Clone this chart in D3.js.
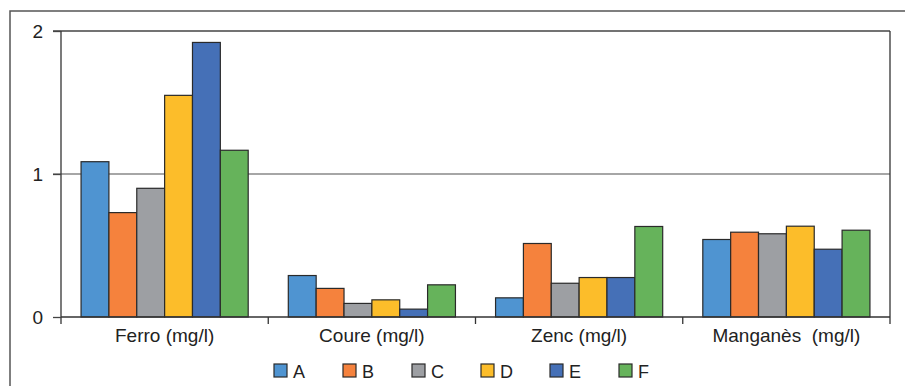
<!DOCTYPE html>
<html>
<head>
<meta charset="utf-8">
<script src="https://cdn.jsdelivr.net/npm/d3@7"></script>
<style>
  body { margin: 0; background: #fff; }
  svg { display: block; font-family: "Liberation Sans Narrow", "Liberation Sans", Arial, sans-serif; }
</style>
</head>
<body>
<svg id="chart" width="905" height="386"></svg>
<script>
var categories = ["Ferro (mg/l)", "Coure (mg/l)", "Zenc (mg/l)", "Manganès  (mg/l)"];
var series = ["A", "B", "C", "D", "E", "F"];
var colors = ["#4f94d1", "#f5823d", "#9d9fa3", "#fcbd2a", "#4570b7", "#66b35b"];
var A = [1.086, 0.29, 0.134, 0.542];
var B = [0.73, 0.20, 0.514, 0.593];
var C = [0.90, 0.095, 0.236, 0.582];
var D = [1.55, 0.12, 0.276, 0.635];
var E = [1.92, 0.055, 0.276, 0.474];
var F = [1.166, 0.225, 0.633, 0.607];
var yTicks = [0, 1, 2];

var values = [A, B, C, D, E, F];
var svg = d3.select("#chart");

var plotLeft = 61, plotRight = 890, plotTop = 31, plotBottom = 317;

// outer frame
svg.append("path")
  .attr("d", "M10,400 V11 H920")
  .attr("fill", "none").attr("stroke", "#555").attr("stroke-width", 1.5);

var x0 = d3.scaleBand().domain(categories).range([plotLeft, plotRight]);
var x1 = d3.scaleBand().domain(series).range([0, x0.bandwidth()]).paddingInner(0).paddingOuter(0.72);
var y = d3.scaleLinear().domain([0, 2]).range([plotBottom, plotTop]);

// gridlines
svg.append("g").selectAll("line").data(yTicks.filter(function(d){ return d > 0; }))
  .enter().append("line")
  .attr("x1", plotLeft - 8).attr("x2", plotRight)
  .attr("y1", function(d){ return y(d); }).attr("y2", function(d){ return y(d); })
  .attr("stroke", function(d){ return d == 2 ? "#444" : "#888"; })
  .attr("stroke-width", 1.3);

// right border of plot
svg.append("line")
  .attr("x1", plotRight).attr("x2", plotRight).attr("y1", plotTop).attr("y2", plotBottom + 7)
  .attr("stroke", "#333").attr("stroke-width", 1.3);

// bars
var groups = svg.append("g").selectAll("g").data(categories).enter().append("g")
  .attr("transform", function(d){ return "translate(" + x0(d) + ",0)"; });

groups.selectAll("rect")
  .data(function(d, ci){ return series.map(function(s, si){ return {s: s, v: values[si][ci], c: colors[si]}; }); })
  .enter().append("rect")
  .attr("x", function(d){ return x1(d.s); })
  .attr("width", x1.bandwidth())
  .attr("y", function(d){ return y(d.v); })
  .attr("height", function(d){ return y(0) - y(d.v); })
  .attr("fill", function(d){ return d.c; })
  .attr("stroke", "#2a2a2a").attr("stroke-width", 1.2);

// y axis
var yAxis = d3.axisLeft(y).tickValues(yTicks).tickSize(8).tickPadding(10).tickFormat(d3.format("d"));
var yg = svg.append("g").attr("transform", "translate(" + plotLeft + ",0)").call(yAxis);
yg.select(".domain").attr("stroke", "#333").attr("stroke-width", 1.3).attr("d", "M0," + plotTop + "V" + (plotBottom + 7));
yg.selectAll(".tick line").attr("stroke", "#444").attr("stroke-width", 1.3);
yg.selectAll("text").attr("font-size", 19).attr("fill", "#222").attr("font-family", "inherit");

// x axis
var xAxis = d3.axisBottom(x0).tickSize(0).tickPadding(10);
var xg = svg.append("g").attr("transform", "translate(0," + plotBottom + ")").call(xAxis);
xg.select(".domain").attr("stroke", "#333").attr("stroke-width", 1.3).attr("d", "M" + plotLeft + ",0H" + plotRight);
xg.selectAll("text").attr("font-size", 19).attr("fill", "#222").attr("font-family", "inherit")
  .style("white-space", "pre").attr("y", 7).attr("dy", "0.95em");
// boundary ticks between categories
xg.append("g").selectAll("line").data(categories.slice(1))
  .enter().append("line")
  .attr("x1", function(d){ return x0(d); }).attr("x2", function(d){ return x0(d); })
  .attr("y1", 0).attr("y2", 7).attr("stroke", "#333").attr("stroke-width", 1.3);

// legend
var legend = svg.append("g").selectAll("g").data(series).enter().append("g")
  .attr("transform", function(d, i){ return "translate(" + (274 + i * 69) + ",364)"; });
legend.append("rect").attr("width", 13).attr("height", 13)
  .attr("fill", function(d, i){ return colors[i]; })
  .attr("stroke", "#2a2a2a").attr("stroke-width", 1.2);
legend.append("text").attr("x", 19).attr("y", 13.5)
  .attr("font-size", 18).attr("fill", "#222")
  .text(function(d){ return d; });
</script>
</body>
</html>
